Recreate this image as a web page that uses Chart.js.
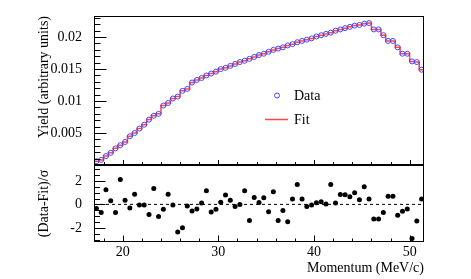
<!DOCTYPE html>
<html><head><meta charset="utf-8">
<script src="https://cdn.jsdelivr.net/npm/chart.js@4.4.1/dist/chart.umd.min.js"></script>
<style>
html,body{margin:0;padding:0;background:#fff;overflow:hidden}
#wrap{position:relative;width:471px;height:279px;background:#fff}
canvas{position:absolute;left:0;top:0}
</style></head><body>
<div id="wrap"><canvas id="top" width="471" height="279"></canvas><canvas id="bot" width="471" height="279"></canvas></div>
<script>
// ---- data ----
const momentum = [17.25,17.75,18.25,18.75,19.25,19.75,20.25,20.75,21.25,21.75,22.25,22.75,23.25,23.75,24.25,24.75,25.25,25.75,26.25,26.75,
  27.25,27.75,28.25,28.75,29.25,29.75,30.25,30.75,31.25,31.75,32.25,32.75,33.25,33.75,34.25,34.75,35.25,35.75,36.25,36.75,
  37.25,37.75,38.25,38.75,39.25,39.75,40.25,40.75,41.25,41.75,42.25,42.75,43.25,43.75,44.25,44.75,45.25,45.75,46.25,46.75,
  47.25,47.75,48.25,48.75,49.25,49.75,50.25,50.75,51.25];
const yieldData = [0.0006,0.0008,0.0014,0.0019,0.0026,0.0031,0.0036,0.0045,0.0050,0.0057,0.0063,0.0071,0.0077,0.0080,0.0093,0.0097,0.0104,0.0107,0.0116,0.0119,
  0.0129,0.0133,0.0136,0.0140,0.0143,0.0146,0.0150,0.0152,0.0155,0.0158,0.0161,0.0163,0.0166,0.0169,0.0172,0.0174,0.0177,0.0180,0.0182,0.0184,
  0.0187,0.0189,0.0192,0.0194,0.0196,0.0198,0.0201,0.0203,0.0205,0.0207,0.0210,0.0212,0.0214,0.0216,0.0218,0.0219,0.0221,0.0222,0.0212,0.0212,
  0.0203,0.0194,0.0194,0.0184,0.0174,0.0174,0.0162,0.0161,0.0149];
const yieldFit = [0.0006,0.0008,0.0014,0.0019,0.0026,0.0031,0.0036,0.0045,0.0050,0.0057,0.0063,0.0071,0.0077,0.0080,0.0093,0.0097,0.0104,0.0107,0.0116,0.0119,
  0.0129,0.0133,0.0136,0.0140,0.0143,0.0146,0.0150,0.0152,0.0155,0.0158,0.0161,0.0163,0.0166,0.0169,0.0172,0.0174,0.0177,0.0180,0.0182,0.0184,
  0.0187,0.0189,0.0192,0.0194,0.0196,0.0198,0.0201,0.0203,0.0205,0.0207,0.0210,0.0212,0.0214,0.0216,0.0218,0.0219,0.0221,0.0222,0.0212,0.0212,
  0.0203,0.0194,0.0194,0.0184,0.0174,0.0174,0.0162,0.0161,0.0149];
const residuals = [-0.36,-0.68,1.25,0.31,-0.70,2.12,0.36,-0.31,0.87,-0.06,-0.06,-0.87,1.36,-1.04,-0.42,0.87,-0.06,-2.35,-1.98,
  -0.14,-0.56,-0.40,0.11,1.16,-0.65,-0.42,0.19,0.79,0.36,-0.19,0.00,1.16,-1.38,0.59,0.17,0.57,-0.62,
  1.08,-1.38,-0.51,-1.47,0.45,1.69,0.45,-0.19,-0.06,0.14,0.23,0.03,1.69,0.11,0.85,0.82,0.65,0.99,
  0.40,1.50,0.45,-1.25,-1.25,-0.70,0.70,0.70,-0.93,-0.59,-0.40,-2.91,-1.42,0.45];
const binWidth = 0.5;
const xRange = [17, 51.5];
const yTopRange = [0, 0.0233];
const yResRange = [-3.2, 3.35];
const xTickLabels = [20, 30, 40, 50];
const yTopTickLabels = [0.005, 0.01, 0.015, 0.02];
const yResTickLabels = [-2, 0, 2];

// ---- build tables ----
const dataPts = momentum.map((m, i) => ({x: m, y: yieldData[i]}));
const fitPts = [];
momentum.forEach((m, i) => { fitPts.push({x: m - binWidth/2, y: yieldFit[i]}); fitPts.push({x: m + binWidth/2, y: yieldFit[i]}); });
const resPts = momentum.map((m, i) => ({x: m, y: residuals[i]}));
const zeroLine = [{x: xRange[0], y: 0}, {x: xRange[1], y: 0}];

Chart.defaults.font.family = "'Liberation Serif', 'DejaVu Serif', serif";
Chart.defaults.font.size = 14;
Chart.defaults.color = '#000';

const rootAxes = {
  id: 'rootAxes',
  afterDatasetsDraw(chart, args, o) {
    const {ctx, chartArea: a, scales} = chart;
    ctx.save();
    ctx.strokeStyle = '#000'; ctx.lineWidth = 1;
    ctx.beginPath();
    const xs = scales.x, ys = scales.y;
    const B = Math.round(a.bottom) - 0.5, L = Math.round(a.left) + 0.5;
    for (let k = Math.ceil(xs.min / o.xMinor - 1e-9); k <= Math.floor(xs.max / o.xMinor + 1e-9); k++) {
      const px = Math.round(xs.getPixelForValue(k * o.xMinor)) + 0.5;
      const len = (k % o.xEvery === 0) ? o.xMajorLen : o.xMinorLen;
      ctx.moveTo(px, B); ctx.lineTo(px, B - len);
    }
    for (let k = Math.ceil(ys.min / o.yMinor - 1e-9); k <= Math.floor(ys.max / o.yMinor + 1e-9); k++) {
      const py = Math.round(ys.getPixelForValue(k * o.yMinor)) + 0.5;
      const len = (k % o.yEvery === 0) ? o.yMajorLen : o.yMinorLen;
      ctx.moveTo(L, py); ctx.lineTo(L + len, py);
    }
    ctx.stroke();
    ctx.strokeRect(Math.round(a.left) + 0.5, Math.round(a.top) + 0.5, Math.round(a.right) - Math.round(a.left) - 1, Math.round(a.bottom) - Math.round(a.top) - 1);
    ctx.restore();
  }
};

const legendPlugin = {
  id: 'rootLegend',
  afterDraw(chart) {
    const ctx = chart.ctx;
    ctx.save();
    ctx.strokeStyle = 'rgb(70,70,255)'; ctx.lineWidth = 1;
    ctx.beginPath(); ctx.arc(277, 95.5, 2.5, 0, Math.PI * 2); ctx.stroke();
    ctx.strokeStyle = 'rgba(255,40,40,0.85)'; ctx.lineWidth = 1.5;
    ctx.beginPath(); ctx.moveTo(265, 119.5); ctx.lineTo(288, 119.5); ctx.stroke();
    ctx.fillStyle = '#000';
    ctx.font = "14px 'Liberation Serif'";
    ctx.textBaseline = 'middle'; ctx.textAlign = 'left';
    ctx.fillText('Data', 294, 96.5);
    ctx.fillText('Fit', 294, 120.5);
    ctx.restore();
  }
};

new Chart(document.getElementById('top'), {
  type: 'scatter',
  data: { datasets: [
    { label: 'Data', data: dataPts, showLine: false, pointStyle: 'circle', pointRadius: 2.5, pointBorderWidth: 1,
      borderColor: 'rgb(70,70,255)', backgroundColor: 'rgba(0,0,0,0)', pointBackgroundColor: 'rgba(0,0,0,0)', pointBorderColor: 'rgb(70,70,255)' },
    { label: 'Fit', data: fitPts, showLine: true, pointRadius: 0, borderColor: 'rgba(255,40,40,0.85)', borderWidth: 1.5, fill: false }
  ]},
  options: {
    responsive: false, animation: false, devicePixelRatio: 1,
    layout: { padding: { left: 0, right: 47, top: 16, bottom: 114 } },
    plugins: { legend: { display: false }, tooltip: { enabled: false },
      rootAxes: { xMinor: 2, xEvery: 5, xMajorLen: 4.5, xMinorLen: 2.5, yMinor: 0.001, yEvery: 5, yMajorLen: 12, yMinorLen: 6 } },
    scales: {
      x: { type: 'linear', min: xRange[0], max: xRange[1], display: false },
      y: { type: 'linear', min: yTopRange[0], max: yTopRange[1],
        grid: { display: false }, border: { display: false },
        afterBuildTicks: s => { s.ticks = yTopTickLabels.map(v => ({value: v})); },
        afterFit: s => { s.width = 94; },
        ticks: { padding: 4, callback: v => String(v) },
        title: { display: true, text: 'Yield (arbitrary units)', align: 'end', padding: { top: 36, bottom: 0 } } }
    }
  },
  plugins: [rootAxes, legendPlugin]
});

new Chart(document.getElementById('bot'), {
  type: 'scatter',
  data: { datasets: [
    { label: 'Residual', data: resPts, showLine: false, pointStyle: 'circle', pointRadius: 2.5, pointBorderWidth: 0,
      backgroundColor: '#000', borderColor: '#000' },
    { label: 'zero', data: zeroLine, showLine: true, pointRadius: 0, borderColor: '#000', borderWidth: 1, borderDash: [3, 3] }
  ]},
  options: {
    responsive: false, animation: false, devicePixelRatio: 1,
    layout: { padding: { left: 0, right: 47, top: 165, bottom: 0 } },
    plugins: { legend: { display: false }, tooltip: { enabled: false },
      rootAxes: { xMinor: 2, xEvery: 5, xMajorLen: 6, xMinorLen: 3, yMinor: 0.5, yEvery: 4, yMajorLen: 11, yMinorLen: 5.5 } },
    scales: {
      x: { type: 'linear', min: xRange[0], max: xRange[1],
        grid: { display: false }, border: { display: false },
        afterBuildTicks: s => { s.ticks = xTickLabels.map(v => ({value: v})); },
        afterFit: s => { s.height = 37; },
        ticks: { padding: -6, maxRotation: 0, callback: v => String(v) },
        title: { display: true, text: 'Momentum (MeV/c)', align: 'end', padding: { top: 0, bottom: 2 } } },
      y: { type: 'linear', min: yResRange[0], max: yResRange[1],
        grid: { display: false }, border: { display: false },
        afterBuildTicks: s => { s.ticks = yResTickLabels.map(v => ({value: v})); },
        afterFit: s => { s.width = 94; },
        ticks: { padding: 4, callback: v => String(v) },
        title: { display: true, text: '(Data-Fit)/σ', align: 'center', padding: { top: 36, bottom: 0 } } }
    }
  },
  plugins: [rootAxes]
});
</script>
</body></html>
